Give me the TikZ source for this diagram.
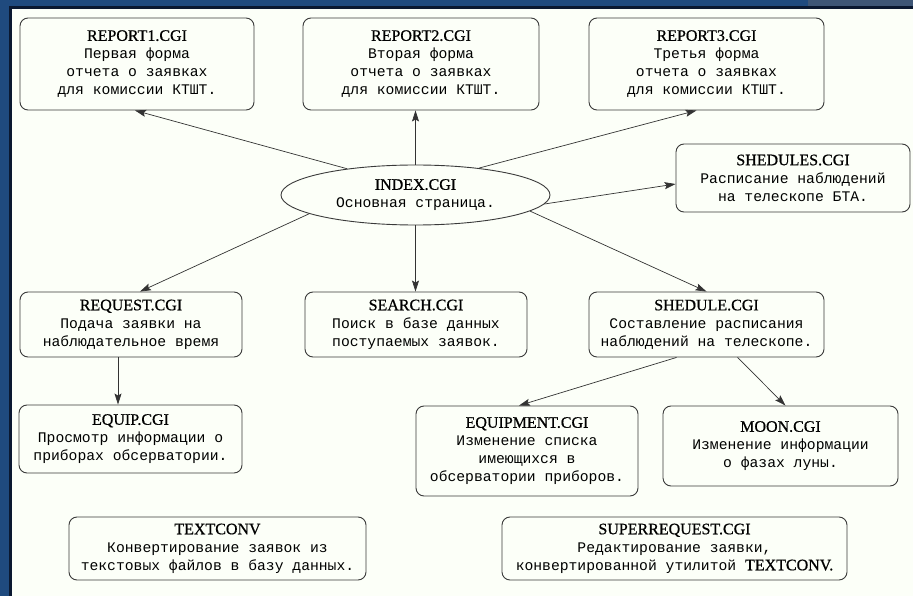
\documentclass[tikz,border=0pt]{standalone}
\usepackage{fontspec}
\usetikzlibrary{arrows.meta,shapes.geometric,calc}
\newfontfamily\tfont[FakeBold=0.7]{Liberation Serif}
\newfontfamily\bfont{Liberation Mono}
\definecolor{frameblue}{HTML}{1F4A7E}
\definecolor{framedark}{HTML}{0A1830}
\definecolor{framelight}{HTML}{3E5676}
\definecolor{bgpaper}{HTML}{FCFFF8}
\definecolor{edgegray}{HTML}{3A3A3A}
\tikzset{
  box/.style={draw=edgegray, line width=0.9pt, rounded corners=8pt, fill=bgpaper,
    align=center, inner sep=0pt, text=black,
    font=\bfont\fontsize{14.7}{18}\selectfont},
  oval/.style={ellipse, draw=edgegray, line width=0.9pt, fill=bgpaper,
    align=center, inner sep=0pt, text=black,
    font=\bfont\fontsize{14.7}{18}\selectfont},
  arr/.style={draw=black!80, line width=0.7pt, -{Stealth[length=11pt,width=7pt,inset=2pt]}},
}
\newcommand{\ttl}[1]{{\tfont\fontsize{16}{18}\selectfont #1}}
\begin{document}
\begin{tikzpicture}[x=1pt,y=-1pt]
\useasboundingbox (0,0) rectangle (913,596);
\fill[frameblue] (0,0) rectangle (913,596);
\fill[framelight] (808,0) rectangle (913,6);
\fill[framedark] (9,6) rectangle (913,596);
\fill[bgpaper] (12,9) rectangle (913,596);

\node[box, minimum width=234pt, minimum height=92pt] (r1) at (137,64)
  {\ttl{REPORT1.CGI}\\Первая форма\\отчета о заявках\\для комиссии КТШТ.};
\node[box, minimum width=236pt, minimum height=92pt] (r2) at (421,64)
  {\ttl{REPORT2.CGI}\\Вторая форма\\отчета о заявках\\для комиссии КТШТ.};
\node[box, minimum width=235pt, minimum height=92pt] (r3) at (706.5,64)
  {\ttl{REPORT3.CGI}\\Третья форма\\отчета о заявках\\для комиссии КТШТ.};
\node[box, minimum width=234pt, minimum height=68pt] (shs) at (793,178)
  {\ttl{SHEDULES.CGI}\\Расписание наблюдений\\на телескопе БТА.};
\node[oval, minimum width=269pt, minimum height=60pt] (index) at (415.5,195)
  {\ttl{INDEX.CGI}\\Основная страница.};
\node[box, minimum width=222pt, minimum height=65pt] (req) at (131,324.5)
  {\ttl{REQUEST.CGI}\\Подача заявки на\\наблюдательное время};
\node[box, minimum width=222pt, minimum height=65pt] (search) at (416,324.5)
  {\ttl{SEARCH.CGI}\\Поиск в базе данных\\поступаемых заявок.};
\node[box, minimum width=235pt, minimum height=65pt] (sh) at (706.5,324.5)
  {\ttl{SHEDULE.CGI}\\Составление расписания\\наблюдений на телескопе.};
\node[box, minimum width=223pt, minimum height=68pt] (equip) at (130.5,439)
  {\ttl{EQUIP.CGI}\\Просмотр информации о\\приборах обсерватории.};
\node[box, minimum width=222pt, minimum height=90pt] (equipm) at (527,451)
  {\ttl{EQUIPMENT.CGI}\\Изменение списка\\имеющихся в\\обсерватории приборов.};
\node[box, minimum width=235pt, minimum height=80pt] (moon) at (780.5,446)
  {\ttl{MOON.CGI}\\Изменение информации\\о фазах луны.};
\node[box, minimum width=297pt, minimum height=63pt] (tconv) at (217.5,548.5)
  {\ttl{TEXTCONV}\\Конвертирование заявок из\\текстовых файлов в базу данных.};
\node[box, minimum width=345pt, minimum height=63pt] (sreq) at (674.5,548.5)
  {\ttl{SUPERREQUEST.CGI}\\Редактирование заявки,\\конвертированной утилитой \ttl{TEXTCONV.}};

\draw[arr] (index.159) -- ([xshift=-2pt]r1.south);
\draw[arr] (index.north) -- (index |- r2.south);
\draw[arr] (index.23) -- ([xshift=-10pt]r3.south);
\draw[arr] (index.-4) -- ([yshift=-6pt]shs.west);
\draw[arr] (index.190) -- ([xshift=9pt]req.north);
\draw[arr] (index.south) -- (index |- search.north);
\draw[arr] (index.-8) -- ([xshift=0pt]sh.north);
\draw[arr] ([xshift=-13pt]req.south) -- ([xshift=-12.5pt]equip.north);
\draw[arr] ([xshift=-30pt]sh.south) -- ([xshift=-8pt]equipm.north);
\draw[arr] ([xshift=31pt]sh.south) -- ([xshift=5pt]moon.north);
\end{tikzpicture}
\end{document}
